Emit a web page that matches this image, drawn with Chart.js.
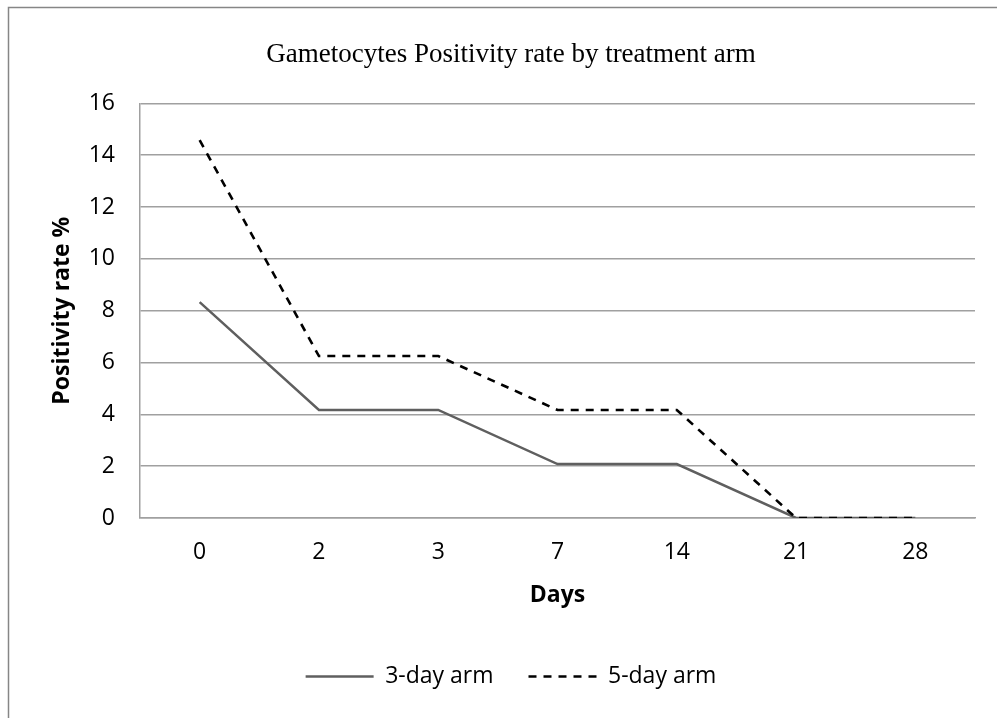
<!DOCTYPE html>
<html>
<head>
<meta charset="utf-8">
<title>Gametocytes Positivity rate by treatment arm</title>
<script src="https://cdn.jsdelivr.net/npm/chart.js@4.4.1/dist/chart.umd.min.js"></script>
<style>
  html, body { margin: 0; padding: 0; background: #fff; overflow: hidden; }
  #wrap { position: relative; width: 997px; height: 718px; }
</style>
</head>
<body>
<div id="wrap"><canvas id="positivity-chart"></canvas></div>
<script>
// days of follow-up
var days = ["0", "2", "3", "7", "14", "21", "28"];
// positivity rate % per arm
var threeDayArm = [8.33, 4.17, 4.17, 2.08, 2.08, 0, 0];
var fiveDayArm = [14.58, 6.25, 6.25, 4.17, 4.17, 0, 0];
var yTicks = [0, 2, 4, 6, 8, 10, 12, 14, 16];

var sansFont = "'Open Sans', 'Noto Sans', sans-serif";

// thin frame round the whole chart (top and left edges)
const chartFrame = {
    id: 'chartFrame',
    beforeDraw(chart) {
        const ctx = chart.ctx;
        ctx.save();
        ctx.strokeStyle = '#868686';
        ctx.lineWidth = 1.5;
        ctx.beginPath();
        ctx.moveTo(8.5, chart.height);
        ctx.lineTo(8.5, 7.5);
        ctx.lineTo(chart.width, 7.5);
        ctx.stroke();
        ctx.restore();
    }
};

let canvas = document.getElementById("positivity-chart").getContext("2d");
var positivityChart = new Chart(canvas, {
    type: 'line',
    data: {
        labels: days,
        datasets: [
            {
                label: "3-day arm",
                data: threeDayArm,
                borderColor: "#5f5f5f",
                backgroundColor: "#5f5f5f",
                borderWidth: 2.5,
                pointRadius: 0,
                tension: 0,
                order: 1
            },
            {
                // drawn on top so the dashes stay visible along 0
                label: "5-day arm",
                data: fiveDayArm,
                borderColor: "#000000",
                backgroundColor: "#000000",
                borderWidth: 2.6,
                borderDash: [8, 7],
                pointRadius: 0,
                tension: 0,
                order: 0
            }
        ]
    },
    options: {
        responsive: true,
        maintainAspectRatio: false,
        animation: false,
        layout: { padding: { left: 47, right: 22, top: 0, bottom: 20 } },
        plugins: {
            title: {
                display: true,
                text: "Gametocytes Positivity rate by treatment arm",
                color: "#000",
                font: { family: "'Liberation Serif', 'Times New Roman', serif", size: 27, weight: 'normal' },
                padding: { top: 39, bottom: 32 }
            },
            legend: {
                position: 'bottom',
                labels: {
                    color: "#000",
                    font: { family: sansFont, size: 23 },
                    usePointStyle: true,
                    pointStyle: 'line',
                    pointStyleWidth: 68,
                    padding: 35,
                    // legend lines take the dash and width of their dataset
                    generateLabels(chart) {
                        return chart.data.datasets.map((ds, i) => ({
                            text: ds.label,
                            datasetIndex: i,
                            hidden: !chart.isDatasetVisible(i),
                            fillStyle: ds.borderColor,
                            strokeStyle: ds.borderColor,
                            lineWidth: ds.borderWidth,
                            lineDash: ds.borderDash || [],
                            pointStyle: 'line',
                            fontColor: "#000"
                        }));
                    }
                }
            },
            tooltip: { enabled: false }
        },
        scales: {
            x: {
                offset: true,
                grid: { display: false, drawTicks: false },
                border: { display: true, color: "#a0a0a0", width: 1.5 },
                ticks: { color: "#000", font: { family: sansFont, size: 23 }, padding: 21 },
                title: {
                    display: true,
                    text: "Days",
                    color: "#000",
                    font: { family: sansFont, size: 23, weight: 'bold' },
                    padding: { top: 0, bottom: 21 }
                },
                afterFit(scale) { scale.height = 112; }
            },
            y: {
                min: 0,
                max: 16,
                afterBuildTicks(scale) { scale.ticks = yTicks.map(v => ({ value: v })); },
                grid: { color: "#a0a0a0", lineWidth: 1.5, drawTicks: false },
                border: { display: true, color: "#a0a0a0", width: 1.5 },
                ticks: { color: "#000", font: { family: sansFont, size: 23 }, padding: 25 },
                title: {
                    display: true,
                    text: "Positivity rate %",
                    color: "#000",
                    font: { family: sansFont, size: 23, weight: 'bold' },
                    padding: { top: 2, bottom: 0 }
                },
                afterFit(scale) { scale.width = 93; }
            }
        }
    },
    plugins: [chartFrame]
});
</script>
</body>
</html>
